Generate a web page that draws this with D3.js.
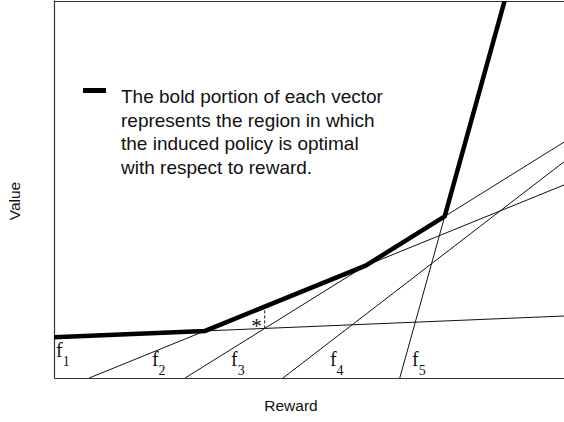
<!DOCTYPE html>
<meta charset="utf-8">
<html>
  <head>
    <style>
      body { margin: 0; background: #fff; }
      .axisLabel { font-family: "Liberation Sans", Arial, Helvetica, sans-serif; font-size: 15.5px; fill: #111; }
      .legend { font-family: "Liberation Sans", Arial, Helvetica, sans-serif; font-size: 19px; fill: #111; }
      .fname { font-family: "Liberation Serif", "Times New Roman", serif; font-size: 20px; fill: #111; }
      .fsub { font-size: 14px; }
    </style>
  </head>
<script src="https://d3js.org/d3.v7.min.js"></script>
<div id="my_dataviz"></div>
<script>

    // value vectors f1..f5, given as start / end points in (reward, value) units
    var names  = ["1", "2", "3", "4", "5"];
    var startX = [0,    0.69, 2.57, 4.49, 6.78];
    var startY = [0.81, 0,    0,    0,    0];
    var endX   = [10,   10,   10,   10,   8.84];
    var endY   = [1.23, 3.83, 4.68, 4.29, 7.5];

    // where the f labels sit along the reward axis
    var labelX = [0.04, 1.92, 3.47, 5.41, 7.02];

    var legendLines = [
      "The bold portion of each vector",
      "represents the region in which",
      "the induced policy is optimal",
      "with respect to reward."
    ];

    var margin = {top: 1, right: 0, bottom: 44, left: 54},
        width = 564 - margin.left - margin.right,
        height = 422 - margin.top - margin.bottom;

    var svg = d3.select("#my_dataviz")
      .append("svg")
        .attr("width", 564)
        .attr("height", 422)
      .append("g")
        .attr("transform", "translate(" + margin.left + "," + margin.top + ")");

    var x = d3.scaleLinear().domain([0, 10]).range([0, width]);
    var y = d3.scaleLinear().domain([0, 7.5]).range([height, -1]);

    // frame (no ticks)
    svg.append("g")
      .attr("transform", "translate(0," + height + ")")
      .call(d3.axisBottom(x).ticks(0).tickSizeOuter(0));
    svg.append("g")
      .call(d3.axisLeft(y).ticks(0).tickSizeOuter(0));
    svg.append("g")
      .call(d3.axisTop(x).ticks(0).tickSizeOuter(0));
    svg.selectAll(".domain").attr("stroke", "#333").attr("stroke-width", 1.2);

    svg.append("defs").append("clipPath").attr("id", "clip")
      .append("rect").attr("x", 0).attr("y", 0).attr("width", width + 10).attr("height", height);

    var vectors = names.map(function(n, i) {
      var slope = (endY[i] - startY[i]) / (endX[i] - startX[i]);
      return {name: n, x0: startX[i], y0: startY[i], x1: endX[i], y1: endY[i], slope: slope};
    });
    function valueAt(v, r) { return v.y0 + v.slope * (r - v.x0); }

    var plot = svg.append("g").attr("clip-path", "url(#clip)");

    plot.selectAll("line.vec")
      .data(vectors)
      .enter()
      .append("line")
        .attr("class", "vec")
        .attr("x1", function(d) { return x(d.x0); })
        .attr("y1", function(d) { return y(d.y0); })
        .attr("x2", function(d) { return x(d.x1); })
        .attr("y2", function(d) { return y(d.y1); })
        .attr("stroke", "#111")
        .attr("stroke-width", 1);

    // upper envelope: walk along reward, switch vector at exact crossings
    function best(r) {
      var b = 0;
      vectors.forEach(function(v, i) { if (valueAt(v, r) > valueAt(vectors[b], r)) b = i; });
      return b;
    }
    var env = [[0, valueAt(vectors[best(0)], 0)]];
    var cur = best(0);
    for (var r = 0; r <= 10; r += 0.01) {
      var b = best(r);
      if (b !== cur) {
        var a = vectors[cur], c = vectors[b];
        var rx = (c.y0 - c.slope * c.x0 - a.y0 + a.slope * a.x0) / (a.slope - c.slope);
        env.push([rx, valueAt(a, rx)]);
        cur = b;
      }
    }
    env.push([10, valueAt(vectors[cur], 10)]);

    plot.append("path")
      .datum(env)
      .attr("fill", "none")
      .attr("stroke", "#000")
      .attr("stroke-width", 4.5)
      .attr("stroke-linejoin", "miter")
      .attr("d", d3.line().x(function(d) { return x(d[0]); }).y(function(d) { return y(d[1]); }));

    // dashed gap marker where f1 meets f3
    var f1 = vectors[0], f3 = vectors[2];
    var rStar = (f3.y0 - f3.slope * f3.x0 - f1.y0 + f1.slope * f1.x0) / (f1.slope - f3.slope);
    var vTop = d3.max(vectors, function(v) { return valueAt(v, rStar); });
    svg.append("line")
      .attr("x1", x(rStar)).attr("x2", x(rStar))
      .attr("y1", y(valueAt(f1, rStar))).attr("y2", y(vTop) + 2)
      .attr("stroke", "#111").attr("stroke-width", 1)
      .attr("stroke-dasharray", "3,2");
    svg.append("text")
      .attr("class", "fname")
      .attr("x", x(rStar) - 3)
      .attr("y", y(valueAt(f1, rStar)) + 5)
      .attr("text-anchor", "end")
      .style("font-size", "21px")
      .text("*");

    // f labels
    var lab = svg.selectAll("text.flab")
      .data(vectors)
      .enter()
      .append("text")
        .attr("class", "fname flab")
        .attr("x", function(d, i) { return x(labelX[i]); })
        .attr("y", function(d, i) { return i === 0 ? height - 21 : height - 12; });
    lab.append("tspan").text("f");
    lab.append("tspan").attr("class", "fsub").attr("dy", 9).text(function(d) { return d.name; });

    // legend
    svg.append("line")
      .attr("x1", 29).attr("x2", 52)
      .attr("y1", 89.5).attr("y2", 89.5)
      .attr("stroke", "#000").attr("stroke-width", 5);
    svg.selectAll("text.legend")
      .data(legendLines)
      .enter()
      .append("text")
        .attr("class", "legend")
        .attr("x", 67)
        .attr("y", function(d, i) { return 102 + i * 23.7; })
        .text(function(d) { return d; });

    // axis labels
    svg.append("text")
      .attr("class", "axisLabel")
      .attr("x", 237)
      .attr("y", height + 33)
      .attr("text-anchor", "middle")
      .text("Reward");
    svg.append("text")
      .attr("class", "axisLabel")
      .attr("transform", "rotate(-90)")
      .attr("x", -200)
      .attr("y", -34)
      .attr("text-anchor", "middle")
      .text("Value");

</script>
</html>
